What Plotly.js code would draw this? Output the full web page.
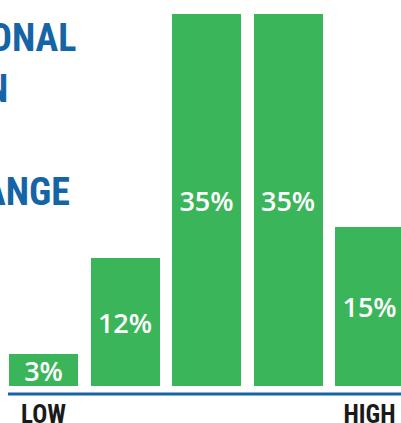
<!DOCTYPE html>
<html>
<head>
<meta charset="utf-8">
<script src="https://cdn.plot.ly/plotly-3.0.1.min.js"></script>
<style>html,body{margin:0;padding:0;background:#fff;}#chart{width:401px;height:423px;}</style>
</head>
<body>
<div id="chart"></div>
<script>
// Data
const positions = [0, 1, 2, 3, 4];
const shares = [3, 12, 35, 35, 15];
const tickPositions = [0, 4];
const tickLabels = ["LOW", "HIGH"];
const titleLines = ["ONAL", "N", "ANGE"];

const green = "#3bb55a";
const blue = "#1565a6";
const condensed = "'Roboto Condensed', 'Noto Sans Condensed', 'Liberation Sans Narrow', 'DejaVu Sans Condensed', Roboto, sans-serif";

const W = 401, H = 423, B = 37;
const plotH = H - B;

const trace = {
  type: "bar",
  x: positions,
  y: shares,
  width: 0.847,
  marker: {color: green, line: {width: 0}},
  texttemplate: "%{y}%",
  textposition: "inside",
  insidetextanchor: "middle",
  textangle: 0,
  constraintext: "none",
  insidetextfont: {family: "'Open Sans', sans-serif", size: 27, color: "#ffffff", weight: 600},
  hoverinfo: "skip",
  cliponaxis: false
};

// Title fragments (cropped at the left edge in the reference)
const titleRight = [78, 10, 72];   // right edge in px
const titleMid = [38, 89, 192];    // vertical centre in px
const annotations = titleLines.map((t, i) => ({
  text: t,
  xref: "paper", yref: "paper",
  x: titleRight[i] / W,
  y: 1 - titleMid[i] / plotH,
  xanchor: "right", yanchor: "middle",
  showarrow: false,
  font: {family: condensed, size: 38, color: blue, weight: 700}
}));

const layout = {
  width: W, height: H,
  margin: {l: 0, r: 0, t: 0, b: B, pad: 0},
  paper_bgcolor: "#ffffff",
  plot_bgcolor: "#ffffff",
  showlegend: false,
  bargap: 0,
  font: {family: condensed},
  xaxis: {
    range: [-0.534, 4.386],
    tickmode: "array",
    tickvals: tickPositions,
    ticktext: tickLabels,
    ticks: "outside",
    ticklen: 6,
    tickcolor: "rgba(0,0,0,0)",
    ticklabeloverflow: "allow",
    showgrid: false,
    zeroline: false,
    showline: false,
    tickfont: {family: condensed, size: 25, color: "#1a1a1a", weight: 700},
    fixedrange: true
  },
  yaxis: {
    range: [0, 36.32],
    visible: false,
    showgrid: false,
    zeroline: false,
    fixedrange: true
  },
  shapes: [{
    type: "line", xref: "paper", yref: "paper",
    x0: 8 / W, x1: 1, y0: -8 / plotH, y1: -8 / plotH,
    line: {color: blue, width: 3}
  }],
  annotations: annotations
};

Plotly.newPlot("chart", [trace], layout, {displayModeBar: false, staticPlot: true});
</script>
</body>
</html>
